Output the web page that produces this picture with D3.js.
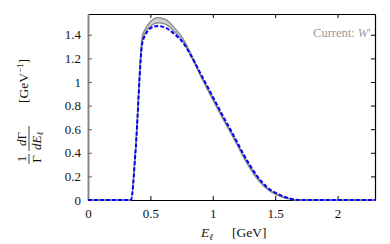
<!DOCTYPE html>
<html>
<head>
<meta charset="utf-8">
<script src="https://cdn.jsdelivr.net/npm/d3@7"></script>
<style>
  body { margin: 0; background: #fff; }
  text { font-family: "Liberation Serif", "DejaVu Serif", serif; }
</style>
</head>
<body>
<script>
// cadre
const largeur = 390;
const hauteur = 244;
const marge = { haut: 14, droite: 15, bas: 44, gauche: 88 };

// données
const energie = [0, 0.345, 0.38, 0.435, 0.46, 0.50, 0.56, 0.62, 0.70, 0.76, 0.82, 0.90, 1.00, 1.10, 1.15, 1.20, 1.25, 1.30, 1.35, 1.40, 1.45, 1.50, 1.55, 1.60, 1.65, 1.70, 2.30];
const courbeBleue = [0, 0, 0.40, 1.33, 1.40, 1.455, 1.475, 1.46, 1.40, 1.335, 1.235, 1.075, 0.875, 0.675, 0.58, 0.48, 0.38, 0.29, 0.21, 0.145, 0.095, 0.062, 0.037, 0.018, 0.005, 0, 0];
const bandeHaut = [0, 0, 0.41, 1.39, 1.45, 1.51, 1.545, 1.53, 1.45, 1.37, 1.25, 1.07, 0.865, 0.665, 0.57, 0.47, 0.37, 0.28, 0.20, 0.137, 0.088, 0.056, 0.032, 0.015, 0.004, 0, 0];
const bandeBas = [0, 0, 0.40, 1.34, 1.42, 1.47, 1.50, 1.49, 1.42, 1.345, 1.23, 1.055, 0.85, 0.65, 0.555, 0.455, 0.355, 0.265, 0.187, 0.127, 0.08, 0.05, 0.027, 0.012, 0.002, 0, 0];
const ticksX = [0, 0.5, 1, 1.5, 2];
const ticksY = [0, 0.2, 0.4, 0.6, 0.8, 1, 1.2, 1.4];
const legende = "Current: ";

const svg = d3.select("body").append("svg")
  .attr("width", largeur)
  .attr("height", hauteur);

const x = d3.scaleLinear().domain([0, 2.3]).range([marge.gauche, largeur - marge.droite]);
const y = d3.scaleLinear().domain([0, 1.576]).range([hauteur - marge.bas, marge.haut]);

const fmt = d => (d === 0 || d === 1 || d === 2) ? d3.format("d")(d) : d3.format(".1f")(d);

// axes
const axeBas = svg.append("g")
  .attr("transform", `translate(0,${y(0)})`)
  .call(d3.axisBottom(x).tickValues(ticksX).tickSizeInner(-4).tickSizeOuter(0).tickPadding(9).tickFormat(fmt));
axeBas.select(".domain").attr("stroke", "#000").attr("stroke-width", 1.2);
axeBas.selectAll(".tick line").attr("stroke", "#000");
axeBas.selectAll("text").attr("font-size", 13).attr("font-family", "Liberation Serif").attr("fill", "#111");
axeBas.selectAll(".tick").filter(d => d === 0).select("line").remove();

const axeHaut = svg.append("g")
  .attr("transform", `translate(0,${y.range()[1]})`)
  .call(d3.axisTop(x).tickValues(ticksX.filter(d => d > 0)).tickSizeInner(-4).tickSizeOuter(0).tickFormat(""));
axeHaut.select(".domain").attr("stroke", "#000").attr("stroke-width", 1.2);

const axeDroit = svg.append("g")
  .attr("transform", `translate(${x.range()[1]},0)`)
  .call(d3.axisRight(y).tickValues(ticksY.filter(d => d > 0)).tickSizeInner(-4).tickSizeOuter(0).tickFormat(""));
axeDroit.select(".domain").attr("stroke", "#000").attr("stroke-width", 1.2);

const axeGauche = svg.append("g")
  .attr("transform", `translate(${x.range()[0]},0)`)
  .call(d3.axisLeft(y).tickValues(ticksY).tickSizeInner(-4).tickSizeOuter(0).tickPadding(7).tickFormat(fmt));
axeGauche.select(".domain").attr("stroke", "#888").attr("stroke-width", 2);
axeGauche.selectAll(".tick line").attr("stroke", "#666");
axeGauche.selectAll(".tick").filter(d => d === 0).select("line").remove();
axeGauche.selectAll("text").attr("font-size", 13).attr("font-family", "Liberation Serif").attr("fill", "#111");

// bande grise
const pts = energie.map((e, i) => ({ e: e, b: courbeBleue[i], h: bandeHaut[i], l: bandeBas[i] }));

svg.append("path")
  .datum(pts)
  .attr("fill", "#d0d0d0")
  .attr("d", d3.area().x(d => x(d.e)).y0(d => y(d.l)).y1(d => y(d.h)).curve(d3.curveMonotoneX));

svg.append("path")
  .datum(pts)
  .attr("fill", "none")
  .attr("stroke", "#888")
  .attr("stroke-width", 1.3)
  .attr("d", d3.line().x(d => x(d.e)).y(d => y(d.h)).curve(d3.curveMonotoneX));

svg.append("path")
  .datum(pts)
  .attr("fill", "none")
  .attr("stroke", "#888")
  .attr("stroke-width", 1.3)
  .attr("d", d3.line().x(d => x(d.e)).y(d => y(d.l)).curve(d3.curveMonotoneX));

// courbe bleue
svg.append("path")
  .datum(pts)
  .attr("fill", "none")
  .attr("stroke", "#0000ff")
  .attr("stroke-width", 2)
  .attr("stroke-dasharray", "4,2")
  .attr("d", d3.line().x(d => x(d.e)).y(d => y(d.b)).curve(d3.curveMonotoneX));

// legende
const leg = svg.append("text")
  .attr("x", 371)
  .attr("y", 37)
  .attr("text-anchor", "end")
  .attr("font-size", 12.5)
  .attr("fill", "#999");
leg.append("tspan").text(legende);
leg.append("tspan").attr("font-style", "italic").text("W");
leg.append("tspan").text("′");

// titre axe x
const titreX = svg.append("text")
  .attr("x", 201)
  .attr("y", 237)
  .attr("font-size", 13.5)
  .attr("fill", "#111");
titreX.append("tspan").attr("font-style", "italic").text("E");
titreX.append("tspan").attr("font-style", "italic").attr("font-size", 9).attr("dy", 3).text("ℓ");
titreX.append("tspan").attr("dy", -3).attr("dx", 19).text("[GeV]");

// titre axe y (rotatif)
const gy = svg.append("g").attr("transform", "translate(29,145) rotate(-90)");
gy.append("text").attr("x", -14).attr("y", -3).attr("text-anchor", "middle").attr("font-size", 13).attr("fill", "#111").text("1");
gy.append("line").attr("x1", -19).attr("x2", -9).attr("y1", 0).attr("y2", 0).attr("stroke", "#111").attr("stroke-width", 0.8);
gy.append("text").attr("x", -14).attr("y", 12).attr("text-anchor", "middle").attr("font-size", 13).attr("fill", "#111").text("Γ");
const num = gy.append("text").attr("x", 6).attr("y", -3).attr("text-anchor", "middle").attr("font-size", 13).attr("fill", "#111");
num.append("tspan").attr("font-style", "italic").text("d");
num.append("tspan").text("Γ");
gy.append("line").attr("x1", -6).attr("x2", 19).attr("y1", 0).attr("y2", 0).attr("stroke", "#111").attr("stroke-width", 0.8);
const den = gy.append("text").attr("x", -5).attr("y", 12).attr("font-size", 13).attr("fill", "#111");
den.append("tspan").attr("font-style", "italic").text("dE");
den.append("tspan").attr("font-style", "italic").attr("font-size", 9).attr("dy", 2).text("ℓ");
const unite = gy.append("text").attr("x", 42).attr("y", -1).attr("font-size", 13.5).attr("fill", "#111");
unite.append("tspan").text("[GeV");
unite.append("tspan").attr("font-size", 9).attr("dy", -5).text("−1");
unite.append("tspan").attr("dy", 5).text("]");
</script>
</body>
</html>
